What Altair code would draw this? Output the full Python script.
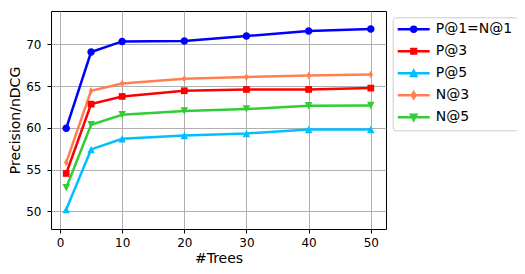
import altair as alt
import pandas as pd

trees = [1, 5, 10, 20, 30, 40, 50]
series = ["P@1=N@1", "P@3", "P@5", "N@3", "N@5"]
p1 = [59.95, 69.08, 70.36, 70.40, 71.00, 71.60, 71.84]
p3 = [54.55, 62.85, 63.77, 64.45, 64.61, 64.61, 64.77]
p5 = [50.24, 57.43, 58.70, 59.10, 59.34, 59.82, 59.82]
n3 = [55.87, 64.45, 65.33, 65.89, 66.09, 66.29, 66.41]
n5 = [52.83, 60.38, 61.58, 62.02, 62.26, 62.65, 62.69]
x_ticks = [0, 10, 20, 30, 40, 50]
y_ticks = [50, 55, 60, 65, 70]

colors = ["#0000ff", "#ff0000", "#00bfff", "#ff7f50", "#32cd32"]
marker_paths = [
    "M-1,0A1,1,0,1,1,1,0A1,1,0,1,1,-1,0Z",
    "M-0.9,-0.9H0.9V0.9H-0.9Z",
    "M0,-1L1,1H-1Z",
    "M0,-1L0.6,0L0,1L-0.6,0Z",
    "M0,1L1,-1H-1Z",
]
legend_paths = [
    "M-4,0H4M-0.62,0A0.62,0.62,0,1,1,0.62,0A0.62,0.62,0,1,1,-0.62,0Z",
    "M-4,0H4M-0.58,-0.58H0.58V0.58H-0.58Z",
    "M-4,0H4M0,-0.65L0.65,0.65H-0.65Z",
    "M-4,0H4M0,-0.75L0.45,0L0,0.75L-0.45,0Z",
    "M-4,0H4M0,0.65L0.65,-0.65H-0.65Z",
]

rows = []
for name, vals in zip(series, [p1, p3, p5, n3, n5]):
    for t, v in zip(trees, vals):
        rows.append({"trees": t, "value": v, "series": name})
df = pd.DataFrame(rows)

FONT = "DejaVu Sans"

x = alt.X("trees:Q",
          scale=alt.Scale(domain=[-1.45, 52.45], nice=False, zero=False),
          axis=alt.Axis(values=x_ticks, title="#Trees", titleX=167.5, titleY=29.5,
                        titleAlign="center", titleBaseline="middle",
                        labelPadding=4))
y = alt.Y("value:Q",
          scale=alt.Scale(domain=[47.9, 74.0], nice=False, zero=False),
          axis=alt.Axis(values=y_ticks, title="Precision/nDCG", titleX=-35.5, titleY=109,
                        titleAngle=270, titleAlign="center", titleBaseline="middle",
                        labelPadding=6))

legend = alt.Legend(title=None, orient="none", legendX=341.7, legendY=6.3,
                    symbolSize=64, symbolStrokeWidth=2.5, symbolOpacity=1,
                    labelFontSize=14, labelFont=FONT, labelColor="#000000",
                    labelOffset=15, symbolOffset=9, padding=5, rowPadding=6,
                    strokeColor="#cccccc", fillColor="#ffffff", cornerRadius=3,
                    labelLimit=200)

lines = alt.Chart(df).mark_line(strokeWidth=2.5, opacity=1).encode(
    x=x, y=y,
    stroke=alt.Stroke("series:N", scale=alt.Scale(domain=series, range=colors),
                      legend=None, sort=series),
)

points = alt.Chart(df).mark_point(filled=True, opacity=1, size=56).encode(
    x=x, y=y,
    fill=alt.Fill("series:N", scale=alt.Scale(domain=series, range=colors),
                  legend=None, sort=series),
    shape=alt.Shape("series:N", scale=alt.Scale(domain=series, range=marker_paths),
                    legend=None, sort=series),
)

legend_layer = alt.Chart(df).transform_filter("false").mark_point(
    filled=True, opacity=1, strokeWidth=2.5).encode(
    x=x, y=y,
    fill=alt.Fill("series:N", scale=alt.Scale(domain=series, range=colors),
                  legend=legend, sort=series),
    stroke=alt.Stroke("series:N", scale=alt.Scale(domain=series, range=colors),
                      legend=legend, sort=series),
    shape=alt.Shape("series:N", scale=alt.Scale(domain=series, range=legend_paths),
                    legend=legend, sort=series),
)

chart = alt.layer(lines, points, legend_layer).resolve_scale(
    shape="independent", fill="independent", stroke="independent"
).properties(
    width=335, height=218,
    autosize=alt.AutoSizeParams(type="none"),
    padding={"left": 43, "top": 3, "right": 131, "bottom": 37},
).configure_view(
    stroke="#000000", strokeWidth=1
).configure_axis(
    domain=False, grid=True, gridColor="#b0b0b0", gridWidth=1,
    tickColor="#000000", tickWidth=1, tickSize=4,
    labelFont=FONT, labelFontSize=12, labelColor="#000000",
    titleFont=FONT, titleFontSize=14, titleColor="#000000", titleFontWeight="normal",
)

chart.save("out.html", embed_options={"renderer": "svg", "actions": False})
